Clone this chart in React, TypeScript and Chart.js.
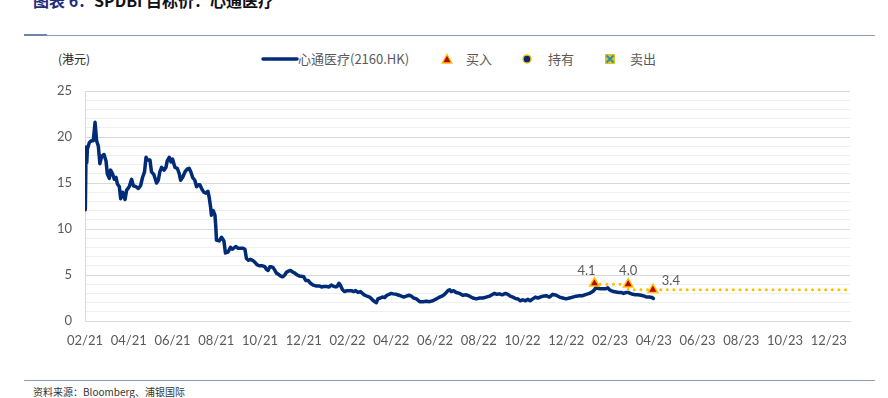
import React, { useEffect, useRef } from "react";
import { Chart, registerables } from "chart.js";

Chart.register(...registerables);

// x values: months elapsed since 2021-02-01 (0 = 02/21)
const priceMonths = [
  0.015, 0.05, 0.08, 0.11, 0.2, 0.3, 0.38, 0.46, 0.53, 0.61,
  0.68, 0.76, 0.87, 0.96, 1.02, 1.11, 1.17, 1.26, 1.34, 1.42,
  1.48, 1.57, 1.63, 1.72, 1.83, 1.9, 2.02, 2.13, 2.21, 2.33,
  2.44, 2.54, 2.63, 2.72, 2.79, 2.86, 2.97, 3.04, 3.15, 3.27,
  3.35, 3.42, 3.5, 3.61, 3.7, 3.76, 3.85, 3.93, 4.0, 4.11,
  4.22, 4.31, 4.37, 4.46, 4.57, 4.67, 4.76, 4.84, 4.92, 5.02,
  5.1, 5.18, 5.25, 5.33, 5.43, 5.53, 5.62, 5.68, 5.74, 5.78,
  5.86, 5.94, 5.98, 6.01, 6.13, 6.24, 6.35, 6.42, 6.54, 6.65,
  6.74, 6.89, 7.0, 7.11, 7.23, 7.31, 7.38, 7.47, 7.56, 7.66,
  7.76, 7.87, 7.99, 8.11, 8.22, 8.3, 8.37, 8.45, 8.52, 8.6,
  8.68, 8.75, 8.83, 8.93, 9.03, 9.13, 9.21, 9.28, 9.39, 9.51,
  9.59, 9.7, 9.79,
  10.0, 10.09, 10.2, 10.31, 10.43, 10.58, 10.73, 10.81,
  10.91, 11.04, 11.16, 11.26, 11.34, 11.46, 11.52,
  11.61, 11.67, 11.77, 11.87, 11.98, 12.1, 12.18, 12.28, 12.37, 12.48,
  12.59, 12.68, 12.79, 12.89, 13.01, 13.14, 13.24, 13.32, 13.39, 13.5,
  13.59, 13.7, 13.8, 13.9, 14.0, 14.08, 14.23, 14.35, 14.46, 14.57,
  14.69, 14.81, 14.92, 15.02, 15.15,
  15.3, 15.45, 15.6, 15.75, 15.9, 16.06, 16.21, 16.36, 16.48, 16.59, 16.67,
  16.74, 16.85, 16.97, 17.12, 17.27, 17.43, 17.58, 17.73, 17.89, 18.04,
  18.19, 18.34, 18.49, 18.64, 18.72, 18.83, 18.95, 19.07, 19.22, 19.33,
  19.44, 19.56, 19.68, 19.79, 19.89, 20.01, 20.14, 20.24, 20.35, 20.47,
  20.59, 20.7,
  20.93, 21.08, 21.23, 21.38, 21.54, 21.69, 21.84, 21.99, 22.15, 22.3,
  22.45, 22.6, 22.75, 22.91, 23.06, 23.21, 23.29, 23.36, 23.44, 23.55,
  23.67, 23.79, 23.9, 23.97, 24.05, 24.16, 24.28, 24.4, 24.51, 24.61,
  24.73, 24.85, 24.92, 25.04, 25.16, 25.27, 25.42, 25.57, 25.68, 25.8,
  25.92, 25.98,
];

const priceValues = [
  12.1, 18.9, 17.2, 18.7, 19.4, 19.6, 19.6, 21.6, 19.6, 19.0,
  17.1, 17.9, 18.1, 17.4, 16.0, 15.5, 16.4, 16.0, 15.4, 15.6,
  14.9, 14.6, 13.3, 14.0, 13.2, 14.2, 14.6, 15.4, 14.7, 14.6,
  14.4, 14.7, 15.6, 16.2, 17.8, 17.5, 17.5, 16.2, 15.9, 15.0,
  15.3, 16.2, 16.7, 16.4, 16.7, 17.4, 17.8, 17.3, 17.6, 16.7,
  16.6, 16.0, 15.3, 15.6, 16.2, 16.5, 16.6, 16.2, 15.6, 15.3,
  14.6, 14.8, 14.8, 14.4, 14.0, 13.9, 14.1, 13.4, 12.4, 11.5,
  12.0, 11.5, 10.2, 8.8, 8.7, 9.1, 8.7, 7.4, 7.5, 8.0,
  7.8, 8.1, 7.9, 7.9, 7.9, 7.8, 6.8, 6.6, 6.7, 6.6,
  6.4, 6.1, 6.0, 6.0, 5.9, 5.6, 5.5, 5.9, 5.9, 5.8,
  5.5, 5.2, 5.1, 4.9, 4.8, 5.0, 5.3, 5.4, 5.5, 5.3,
  5.2, 5.0, 4.9,
  4.8, 4.4, 4.4, 4.1, 3.9, 3.8, 3.8, 3.7,
  3.75, 3.75, 3.7, 3.9, 3.8, 3.7, 3.75,
  4.1, 3.9, 3.4, 3.2, 3.3, 3.3, 3.3, 3.2, 3.3, 3.1,
  3.2, 3.0, 2.8, 2.7, 2.6, 2.3, 2.1, 2.0, 2.4, 2.5,
  2.6, 2.55, 2.8, 2.9, 3.0, 2.95, 2.9, 2.8, 2.7, 2.6,
  2.7, 2.8, 2.7, 2.5, 2.4,
  2.1, 2.1, 2.15, 2.1, 2.2, 2.4, 2.6, 2.75, 3.0, 3.3, 3.4,
  3.2, 3.3, 3.1, 3.0, 2.8, 2.85, 2.7, 2.5, 2.4, 2.5,
  2.5, 2.6, 2.7, 2.9, 3.0, 2.9, 2.95, 2.85, 3.0, 2.9,
  2.7, 2.6, 2.45, 2.4, 2.2, 2.3, 2.2, 2.35, 2.2, 2.4,
  2.6, 2.5,
  2.7, 2.75, 2.6, 2.9, 2.8, 2.6, 2.5, 2.4, 2.5, 2.6,
  2.7, 2.75, 2.75, 2.9, 3.0, 3.2, 3.4, 3.65, 3.55, 3.5,
  3.5, 3.5, 3.6, 3.4, 3.3, 3.2, 3.15, 3.1, 3.1, 3.0,
  3.1, 3.1, 3.0, 2.9, 2.85, 2.85, 2.8, 2.7, 2.6, 2.6,
  2.55, 2.45,
];

const buyMonths = [23.29, 24.83, 25.96];
const buyTargets = [4.1, 4.0, 3.4];

const targetMonths = [23.29, 24.83, 25.96, 34.97];
const targetValues = [4.1, 4.0, 3.4, 3.4];

const xTickMonths = [0, 2, 4, 6, 8, 10, 12, 14, 16, 18, 20, 22, 24, 26, 28, 30, 32, 34];
const xMin = 0;
const xMax = 34.97;
const yMin = 0;
const yMax = 25;
const yMajorStep = 5;

const titleLead = "图表 6：";
const titleRest = "SPDBI 目标价：心通医疗";
const unitLabel = "(港元)";
const seriesName = "心通医疗(2160.HK)";
const buyName = "买入";
const holdName = "持有";
const sellName = "卖出";
const sourceText = "资料来源：Bloomberg、浦银国际";

const NAVY = "#002C77";
const GOLD = "#FFC000";
const RED = "#C00000";
const GRAY_TEXT = "#595959";
const CJK = '"Noto Sans CJK SC", "Noto Sans", sans-serif';
const NUM = 'Lato, "Open Sans", sans-serif';

// label offsets relative to each buy marker (px)
const labelOffsets = [
  [-8, -12],
  [0, -13],
  [18, -9],
];

function monthLabel(v: number): string {
  const m = ((v + 1) % 12) + 1;
  const y = 21 + Math.floor((v + 1) / 12);
  return `${String(m).padStart(2, "0")}/${y}`;
}

const buyLabelPlugin = {
  id: "buyLabels",
  afterDatasetsDraw(chart: any) {
    const meta = chart.getDatasetMeta(2);
    if (!meta || !meta.data) return;
    const ctx = chart.ctx;
    ctx.save();
    ctx.font = `13px ${NUM}`;
    ctx.fillStyle = GRAY_TEXT;
    ctx.textAlign = "center";
    ctx.textBaseline = "middle";
    meta.data.forEach((pt: any, i: number) => {
      const off = labelOffsets[i] || [0, -12];
      ctx.fillText(buyTargets[i].toFixed(1), pt.x + off[0], pt.y + off[1]);
    });
    ctx.restore();
  },
};

export default function App() {
  const canvasRef = useRef<HTMLCanvasElement | null>(null);

  useEffect(() => {
    if (!canvasRef.current) return;
    const chart = new Chart(canvasRef.current, {
      type: "line",
      data: {
        datasets: [
          {
            label: seriesName,
            data: priceMonths.map((m, i) => ({ x: m, y: priceValues[i] })),
            borderColor: NAVY,
            borderWidth: 3.5,
            pointRadius: 0,
            tension: 0,
            borderJoinStyle: "round",
            borderCapStyle: "round",
            order: 3,
          },
          {
            label: "target",
            data: targetMonths.map((m, i) => ({ x: m, y: targetValues[i] })),
            borderColor: GOLD,
            borderWidth: 3,
            borderDash: [0.1, 6.5],
            borderCapStyle: "round",
            stepped: "after",
            pointRadius: 0,
            order: 2,
          },
          {
            label: buyName,
            data: buyMonths.map((m, i) => ({ x: m, y: buyTargets[i] })),
            showLine: false,
            pointStyle: "triangle",
            pointRadius: 5.5,
            pointBackgroundColor: RED,
            pointBorderColor: GOLD,
            pointBorderWidth: 1.5,
            order: 1,
          },
        ],
      },
      options: {
        responsive: false,
        animation: false,
        layout: { padding: { left: 0, right: 38, top: 51, bottom: 0 } },
        plugins: { legend: { display: false }, tooltip: { enabled: false } },
        scales: {
          x: {
            type: "linear",
            min: xMin,
            max: xMax,
            afterBuildTicks: (scale: any) => {
              scale.ticks = xTickMonths.map((v) => ({ value: v }));
            },
            afterFit: (scale: any) => {
              scale.height = 49;
            },
            ticks: {
              autoSkip: false,
              maxRotation: 0,
              padding: 12,
              color: GRAY_TEXT,
              font: { family: NUM, size: 13 },
              callback: (v: any) => monthLabel(Number(v)),
            },
            grid: { display: false, drawTicks: false },
            border: { display: true, color: "#D9D9D9" },
          },
          y: {
            type: "linear",
            min: yMin,
            max: yMax,
            afterFit: (scale: any) => {
              scale.width = 85;
            },
            ticks: {
              stepSize: 1,
              autoSkip: false,
              padding: 13,
              color: GRAY_TEXT,
              font: { family: NUM, size: 13 },
              callback: (v: any) => (Number(v) % yMajorStep === 0 ? String(v) : ""),
            },
            grid: {
              drawTicks: false,
              color: (c: any) =>
                c.tick && c.tick.value % yMajorStep === 0 ? "#D9D9D9" : "#EFEFEF",
              lineWidth: 1,
            },
            border: { display: true, color: "#D9D9D9" },
          },
        },
      },
      plugins: [buyLabelPlugin],
    } as any);
    return () => chart.destroy();
  }, []);

  const legendText: React.CSSProperties = {
    position: "absolute",
    top: 50,
    fontFamily: CJK,
    fontSize: 13,
    lineHeight: "18px",
    color: GRAY_TEXT,
    whiteSpace: "nowrap",
  };

  return (
    <div
      style={{
        position: "absolute",
        left: 0,
        top: 0,
        width: 888,
        height: 398,
        overflow: "hidden",
        background: "#ffffff",
      }}
    >
      <div
        style={{
          position: "absolute",
          left: 33,
          top: -9,
          fontFamily: CJK,
          fontWeight: 700,
          fontSize: 16,
          lineHeight: "18px",
          whiteSpace: "nowrap",
        }}
      >
        <span style={{ color: "#1F2D7A" }}>{titleLead}</span>
        <span style={{ color: "#111111" }}>{titleRest}</span>
      </div>
      <div style={{ position: "absolute", left: 24, top: 35, width: 851, height: 1, background: "#8A9BBF" }} />
      <div style={{ position: "absolute", left: 24, top: 34, width: 23, height: 2, background: "#7083AD" }} />

      <div
        style={{
          position: "absolute",
          left: 58,
          top: 50,
          fontFamily: CJK,
          fontSize: 12,
          lineHeight: "18px",
          color: "#262626",
          whiteSpace: "nowrap",
        }}
      >
        {unitLabel}
      </div>

      <svg style={{ position: "absolute", left: 260, top: 54 }} width={40} height={10}>
        <line x1={3} y1={5} x2={37} y2={5} stroke={NAVY} strokeWidth={3.5} strokeLinecap="round" />
      </svg>
      <div style={{ ...legendText, left: 298 }}>{seriesName}</div>

      <svg style={{ position: "absolute", left: 441, top: 53 }} width={12} height={12}>
        <polygon points="6,1.5 10.8,10 1.2,10" fill={RED} stroke={GOLD} strokeWidth={1.3} />
      </svg>
      <div style={{ ...legendText, left: 466 }}>{buyName}</div>

      <svg style={{ position: "absolute", left: 521, top: 53 }} width={12} height={12}>
        <circle cx={6} cy={6} r={4} fill={NAVY} stroke={GOLD} strokeWidth={1.3} />
      </svg>
      <div style={{ ...legendText, left: 548 }}>{holdName}</div>

      <svg style={{ position: "absolute", left: 604, top: 53 }} width={12} height={12}>
        <rect x={1} y={1} width={10} height={10} fill="#E2C51C" />
        <line x1={2.5} y1={2.5} x2={9.5} y2={9.5} stroke="#2E8FB0" strokeWidth={2} />
        <line x1={9.5} y1={2.5} x2={2.5} y2={9.5} stroke="#2E8FB0" strokeWidth={2} />
      </svg>
      <div style={{ ...legendText, left: 630 }}>{sellName}</div>

      <canvas
        ref={canvasRef}
        width={888}
        height={330}
        style={{ position: "absolute", left: 0, top: 40, width: 888, height: 330 }}
      />

      <div style={{ position: "absolute", left: 24, top: 380, width: 851, height: 1, background: "#8A9BBF" }} />
      <div
        style={{
          position: "absolute",
          left: 33,
          top: 385,
          fontFamily: CJK,
          fontSize: 10,
          lineHeight: "14px",
          color: "#333333",
          whiteSpace: "nowrap",
        }}
      >
        {sourceText}
      </div>
    </div>
  );
}
